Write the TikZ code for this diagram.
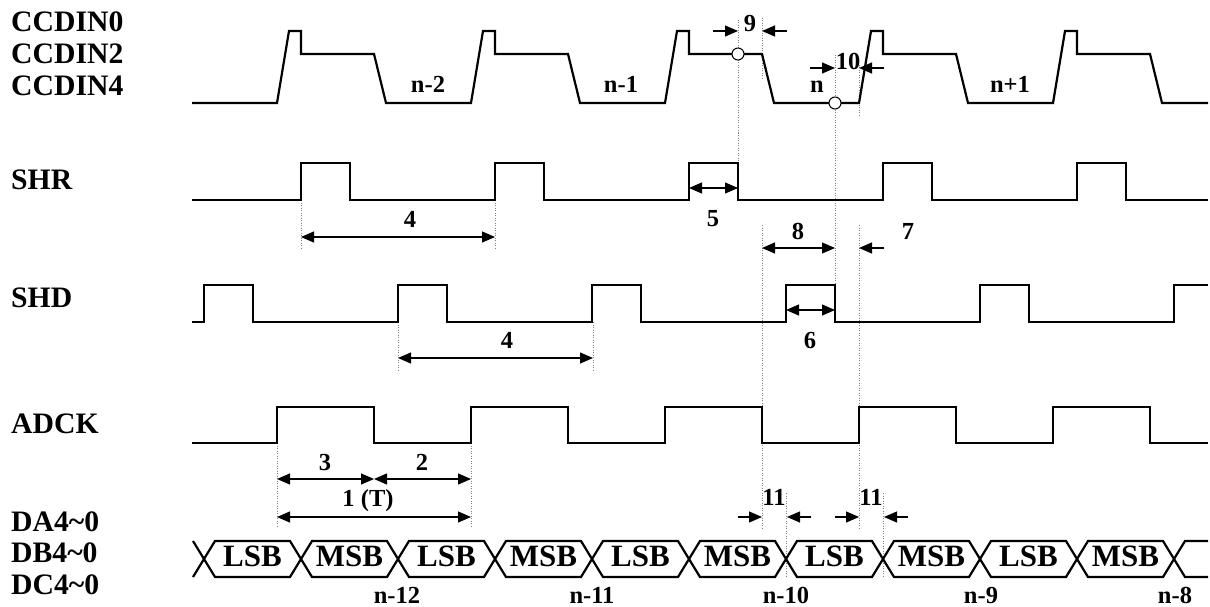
\documentclass[tikz,border=0pt]{standalone}
\usepackage{fontspec}
\setmainfont{Liberation Serif}
\usetikzlibrary{arrows.meta}
\tikzset{
  wave/.style={black, line width=2.2pt, line join=miter},
  guide/.style={gray, line width=0.8pt, dash pattern=on 1pt off 1.5pt},
  dimline/.style={line width=1.2pt, {Triangle[length=13pt,width=11pt]}-{Triangle[length=13pt,width=11pt]}},
  onehead/.style={line width=1.2pt, -{Triangle[length=13pt,width=11pt]}},
  signame/.style={anchor=base west, inner sep=0pt, font=\bfseries\fontsize{29.7}{32}\selectfont},
  num/.style={anchor=base, inner sep=0pt, font=\bfseries\fontsize{24.5}{27}\selectfont},
  word/.style={anchor=base, inner sep=0pt, font=\bfseries\fontsize{31}{34}\selectfont},
  smpl/.style={circle, draw, fill=white, line width=1pt, minimum size=12pt, inner sep=0pt}
}
\begin{document}
\begin{tikzpicture}[x=1pt, y=-1pt]
\useasboundingbox (0,0) rectangle (1210,607);
\node [signame] (ccdin0) at (11,32) {CCDIN0};
\node [signame] (ccdin2) at (11,64) {CCDIN2};
\node [signame] (ccdin4) at (11,96) {CCDIN4};
\node [signame] (shr) at (11,189) {SHR};
\node [signame] (shd) at (11,307) {SHD};
\node [signame] (adck) at (11,433) {ADCK};
\node [signame] (da) at (11,531) {DA4\textasciitilde0};
\node [signame] (db) at (11,562) {DB4\textasciitilde0};
\node [signame] (dc) at (11,594) {DC4\textasciitilde0};
\foreach \x in {301,495} \draw [guide] (\x,200) -- (\x,248);
\foreach \x in {398,593} \draw [guide] (\x,322) -- (\x,370);
\foreach \x in {277,471} \draw [guide] (\x,443) -- (\x,528);
\draw [guide] (738,20) -- (738,163);
\draw [guide] (762,18) -- (762,80);
\draw [guide] (835,55) -- (835,285);
\draw [guide] (859,65) -- (859,117);
\foreach \x in {762,859} \draw [guide] (\x,225) -- (\x,528);
\foreach \x in {786,883} \draw [guide] (\x,493) -- (\x,577);
\draw [wave] (192,103) \foreach \s in {277,471,665,859,1053} { -- (\s,103) -- ++(12,-72) -- ++(12,0) -- ++(0,23) -- ++(73,0) -- ++(12,49) } -- (1208,103);
\draw [wave] (192,200) \foreach \s in {301,495,689,883,1077} { -- (\s,200) -- (\s,163) -- ++(49,0) -- ++(0,37) } -- (1208,200);
\draw [wave] (192,322) \foreach \s in {204,398,592,786,980} { -- (\s,322) -- (\s,285) -- ++(49,0) -- ++(0,37) } -- (1174,322) -- (1174,285) -- (1208,285);
\draw [wave] (192,443) \foreach \s in {277,471,665,859,1053} { -- (\s,443) -- (\s,407) -- ++(97,0) -- ++(0,36) } -- (1208,443);
\draw [wave] (193,541) -- (204,559) -- (193,577);
\foreach \c in {204,301,...,1077}
  \draw [wave] (\c,559) -- ++(11,-18) -- ++(75,0) -- ++(11,18) -- ++(-11,18) -- ++(-75,0) -- cycle;
\draw [wave] (1208,541) -- (1185,541) -- (1174,559) -- (1185,577) -- (1208,577);
\foreach \c [count=\i] in {204,398,592,786,980} \node [word] (lsb\i) at (\c+48.5,566) {LSB};
\foreach \c [count=\i] in {301,495,689,883,1077} \node [word] (msb\i) at (\c+48.5,566) {MSB};
\foreach \x/\t [count=\i] in {428/n-2,621/n-1,817/n,1010/n+1} \node [num] (pix\i) at (\x,93) {\t};
\foreach \x/\t [count=\i] in {397/n-12,592/n-11,786/n-10,981/n-9,1175/n-8} \node [num] (word\i) at (\x,603) {\t};
\node [smpl] (smpA) at (738,54) {};
\node [smpl] (smpB) at (835,103) {};
\draw [onehead] (713,31) -- (738,31);
\draw [onehead] (787,31) -- (762,31);
\node [num] (t9) at (750,32) {9};
\draw [onehead] (810,68) -- (835,68);
\draw [onehead] (884,68) -- (859,68);
\node [num] (t10) at (848,70) {10};
\draw [dimline] (301,237) -- (495,237);
\node [num] (t4a) at (410,227) {4};
\draw [dimline] (689,188) -- (738,188);
\node [num] (t5) at (713,226) {5};
\draw [dimline] (762,248) -- (835,248);
\node [num] (t8) at (798,239) {8};
\draw [onehead] (884,248) -- (859,248);
\node [num] (t7) at (908,239) {7};
\draw [dimline] (786,310) -- (835,310);
\node [num] (t6) at (810,348) {6};
\draw [dimline] (398,358) -- (593,358);
\node [num] (t4b) at (507,348) {4};
\draw [dimline] (277,479) -- (374,479);
\node [num] (t3) at (325,470) {3};
\draw [dimline] (374,479) -- (471,479);
\node [num] (t2) at (422,470) {2};
\draw [dimline] (277,517) -- (471,517);
\node [num] (t1) at (368,506) {1 (T)};
\draw [onehead] (738,517) -- (762,517);
\draw [onehead] (811,517) -- (787,517);
\node [num] (t11a) at (774,505) {11};
\draw [onehead] (835,517) -- (859,517);
\draw [onehead] (908,517) -- (884,517);
\node [num] (t11b) at (871,505) {11};
\end{tikzpicture}
\end{document}
